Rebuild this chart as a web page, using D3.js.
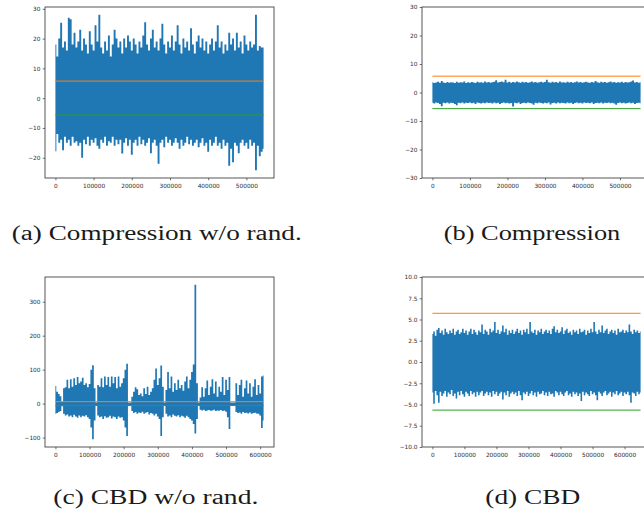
<!DOCTYPE html>
<html><head><meta charset="utf-8">
<script src="https://cdn.jsdelivr.net/npm/d3@7"></script>
<style>body{margin:0;background:#fff}svg{display:block}</style>
</head><body>
<svg id="chart" width="644" height="517"></svg>
<script>
// ---------- data (envelope of each series, read every 5000 samples) ----------
const sampleStep = 5000;
const thresholdUpper = 5.73;
const thresholdLower = -5.66;

// (a) Compression w/o rand.
const hiA = [18,14,20,25.3,17,19,16,27,26.5,18,
  22,17,19,23,16,20,18,15,22.5,18,
  16,24.5,19,28,17,15,19,16,21,14,
  18,23,20,17,19,15,20,17,21,19,
  16,20,18,15,19,17,21,25.5,18,16,
  20,23,17,19,16,20,25,18,15,19,
  17,21,16,19,24.5,18,15,20,17,19,
  16,23.5,18,15,19,21,17,20,16,19,
  15,18,20,16,19,24.5,17,19,15,18,
  16,22,18,20,16,22,17,19,15,21,
  18,16,19,17,18,28,16,17.5,17,17];
const loA = [-17.8,-12,-15,-14,-17.5,-13,-15,-14,-16,-13,
  -15,-14.5,-16,-15,-20,-14,-15.5,-13,-16,-14,
  -15,-13.5,-16,-17,-14,-15,-13,-16,-14.5,-15,
  -13,-16,-14,-15.5,-14,-18.6,-15,-13.5,-16,-14,
  -19,-15,-14,-16,-13,-15.5,-14,-16,-15,-13.5,
  -18.5,-15,-14,-16,-22,-15,-14,-16.5,-13,-15,
  -14,-16,-15,-13.5,-15,-17,-14,-16,-15,-13,
  -15.5,-14,-16,-15,-14,-16.5,-15,-13.5,-16,-15,
  -18,-14,-16,-15,-13,-16,-15,-17,-14,-16,
  -15,-22.7,-17,-21.5,-15,-16,-18.5,-15,-14,-16,
  -15,-17,-14,-16,-15,-24.2,-16,-19.5,-18,-17];

// (b) Compression
const hiB = [3.6,3.3,3.5,3.8,3.4,4.0,3.5,3.3,3.7,3.4,
  3.6,3.5,3.3,3.8,3.4,3.6,3.5,3.9,3.3,3.6,
  3.4,3.7,3.5,3.3,3.8,3.5,3.6,3.4,3.9,3.5,
  3.7,3.4,3.6,3.8,4.3,3.5,3.7,3.9,3.6,4.5,
  3.5,3.8,3.4,3.7,3.5,3.9,3.6,3.4,3.8,3.5,
  3.7,3.4,3.6,3.9,3.5,3.7,3.4,3.6,3.8,3.5,
  3.7,4.5,3.6,3.4,3.8,3.5,3.7,3.4,3.9,3.5,
  3.6,3.4,3.8,3.5,3.7,3.4,3.6,3.9,3.5,3.7,
  3.4,3.6,3.8,3.5,3.4,3.7,3.5,4.0,3.6,3.4,
  3.8,3.5,3.7,3.4,3.6,3.9,3.5,3.7,3.4,3.6,
  3.5,3.8,3.4,3.7,3.5,3.6,3.9,4.2,3.5,3.7,
  3.4,3.6];
const loB = [-3.6,-3.9,-3.5,-3.7,-4.0,-4.8,-3.6,-3.8,-3.5,-3.9,
  -3.6,-3.7,-4.0,-4.5,-3.6,-3.8,-3.5,-3.9,-3.6,-3.7,
  -3.5,-3.8,-3.6,-4.0,-3.5,-3.7,-3.9,-3.6,-3.8,-3.5,
  -3.7,-3.6,-3.9,-3.5,-3.8,-3.6,-4.0,-3.7,-3.5,-3.8,
  -3.6,-3.9,-3.7,-4.9,-3.6,-3.8,-3.5,-4.0,-3.7,-3.6,
  -3.8,-3.5,-3.7,-3.9,-4.3,-3.6,-3.8,-3.5,-3.7,-3.9,
  -3.6,-3.8,-3.5,-4.2,-3.7,-3.6,-3.9,-3.5,-3.8,-3.6,
  -3.7,-3.9,-3.5,-3.8,-3.6,-4.0,-3.7,-3.5,-3.8,-3.6,
  -3.9,-3.5,-3.7,-3.6,-3.8,-3.5,-4.0,-3.7,-3.6,-3.8,
  -3.5,-3.9,-3.6,-3.7,-3.5,-3.8,-3.6,-3.9,-4.3,-3.7,
  -3.5,-3.8,-3.6,-3.9,-3.7,-3.5,-3.8,-3.6,-4.0,-3.7,
  -3.6,-3.8];

// (c) CBD w/o rand.
const hiC = [52,35,28,22,5,45,48,70,45,72,
  50,75,55,78,60,65,76,55,60,48,
  58,100,113,45,3,55,50,75,48,80,
  55,78,50,80,60,78,45,80,50,60,
  75,100,117,3,3,20,35,48,42,25,
  30,22,45,28,50,25,35,45,70,103,
  55,75,112,50,3,40,93,45,80,35,
  60,40,70,45,55,38,65,80,45,70,
  93,115,350,60,3,18,48,20,45,68,
  25,50,72,30,65,20,50,35,78,25,
  70,40,78,3,3,3,60,25,55,70,
  20,45,68,30,60,20,50,72,25,55,
  30,80,83];
const loC = [-30,-28,-25,-22,-8,-30,-35,-32,-38,-35,
  -40,-33,-38,-42,-35,-40,-36,-38,-34,-40,
  -45,-70,-105,-50,-4,-35,-40,-38,-45,-37,
  -42,-40,-36,-44,-38,-40,-45,-38,-42,-40,
  -50,-70,-95,-4,-4,-22,-28,-25,-30,-26,
  -28,-24,-30,-27,-25,-32,-28,-30,-35,-30,
  -38,-45,-95,-40,-4,-30,-38,-35,-40,-32,
  -36,-38,-34,-40,-36,-38,-42,-36,-40,-45,
  -50,-60,-88,-45,-4,-18,-20,-18,-22,-20,
  -19,-21,-20,-18,-22,-20,-21,-19,-22,-20,
  -24,-40,-75,-4,-4,-4,-25,-28,-26,-30,
  -25,-28,-27,-29,-26,-30,-28,-27,-29,-30,
  -35,-72,-50];

// (d) CBD
const hiD = [3.3,3.6,3.1,3.8,4.0,3.4,3.7,3.2,3.9,3.5,
  3.3,3.7,3.4,3.9,3.2,3.6,3.8,3.3,3.5,3.9,
  3.4,3.7,3.2,3.6,3.9,3.3,3.8,3.5,3.2,3.7,
  3.5,4.4,3.3,3.8,3.6,3.2,3.9,3.5,3.7,4.7,
  3.4,3.8,3.3,3.6,4.3,3.5,3.9,3.2,3.7,3.4,
  3.8,3.3,3.6,3.9,3.4,3.7,3.2,3.8,3.5,3.9,
  3.3,4.7,3.6,3.4,3.8,3.2,3.7,3.5,3.9,3.3,
  3.6,3.8,3.4,3.7,3.3,3.9,4.2,3.5,3.8,3.4,
  3.6,4.1,3.3,3.7,3.9,3.4,3.6,3.2,3.8,3.5,
  3.7,3.3,3.9,3.5,3.6,3.8,3.2,3.7,3.4,3.9,
  3.5,4.7,3.6,3.3,3.8,3.5,4.3,3.4,3.7,3.9,
  3.3,3.6,3.8,3.4,3.7,3.2,3.9,3.5,3.6,3.8,
  3.4,3.7,3.5,4.4,3.6,3.3,3.8,3.5,3.7,3.4,
  3.6];
const loD = [-3.6,-4.9,-3.4,-3.9,-4.8,-3.5,-4.0,-3.7,-3.4,-4.1,
  -3.6,-3.8,-3.3,-4.0,-3.7,-4.3,-3.5,-3.9,-3.4,-3.8,
  -4.1,-3.5,-3.7,-4.0,-3.4,-3.8,-3.6,-4.1,-3.5,-3.9,
  -3.6,-3.4,-4.0,-3.7,-3.5,-3.9,-3.6,-4.1,-3.4,-3.8,
  -3.5,-4.0,-3.7,-3.5,-4.4,-3.6,-3.9,-3.4,-4.1,-3.7,
  -3.5,-3.8,-3.6,-4.0,-3.4,-3.9,-4.5,-3.6,-3.8,-3.5,
  -4.0,-3.7,-3.4,-3.9,-3.6,-4.1,-3.5,-3.8,-3.7,-3.4,
  -3.9,-3.6,-4.0,-3.5,-3.8,-3.7,-4.1,-3.4,-3.6,-3.9,
  -3.5,-3.8,-4.0,-3.6,-3.4,-3.9,-3.7,-4.1,-3.5,-3.8,
  -3.6,-4.0,-3.7,-4.6,-3.5,-3.9,-3.6,-3.8,-4.0,-3.4,
  -3.8,-3.6,-3.9,-4.5,-3.5,-3.7,-4.0,-3.6,-3.4,-3.9,
  -3.7,-3.5,-4.1,-3.6,-3.8,-3.4,-3.9,-3.7,-3.5,-4.0,
  -3.6,-3.8,-3.5,-3.9,-4.8,-3.6,-3.7,-4.0,-3.5,-3.8,
  -3.6];

// tick labels
const xTicksAB = [0,100000,200000,300000,400000,500000];
const xTicksCD = [0,100000,200000,300000,400000,500000,600000];
const yTicksA = [-20,-10,0,10,20,30];
const yTicksB = [-30,-20,-10,0,10,20,30];
const yTicksC = [-100,0,100,200,300];
const yTicksD = [-10,-7.5,-5,-2.5,0,2.5,5,7.5,10];
const captions = ["(a) Compression w/o rand.", "(b) Compression", "(c) CBD w/o rand.", "(d) CBD"];

// ---------- drawing ----------
const svg = d3.select("#chart");
svg.append("rect").attr("width",644).attr("height",517).attr("fill","#fff");

const panels = [
  {hi:hiA, lo:loA, box:{x0:45,x1:274,y0:7,y1:178}, yDomain:null, yTicks:yTicksA, xTicks:xTicksAB, fmt:d3.format("d"),
   cap:{text:captions[0], x:11.7, y:240, w:290}},
  {hi:hiB, lo:loB, box:{x0:422,x1:651,y0:7,y1:178}, yDomain:[-30,30], yTicks:yTicksB, xTicks:xTicksAB, fmt:d3.format("d"),
   cap:{text:captions[1], x:443.7, y:240, w:176.6}},
  {hi:hiC, lo:loC, box:{x0:45,x1:274,y0:277,y1:447}, yDomain:null, yTicks:yTicksC, xTicks:xTicksCD, fmt:d3.format("d"),
   cap:{text:captions[2], x:53.3, y:504, w:205}},
  {hi:hiD, lo:loD, box:{x0:422,x1:651,y0:277,y1:447}, yDomain:[-10,10], yTicks:yTicksD, xTicks:xTicksCD, fmt:d3.format(".1f"),
   cap:{text:captions[3], x:485.3, y:504, w:95}}
];

panels.forEach(p => {
  const g = svg.append("g");
  const n = p.hi.length;
  const xs = d3.range(n).map(i => i * sampleStep);
  const xMax = xs[n - 1];
  const x = d3.scaleLinear().domain([-0.05 * xMax, 1.05 * xMax]).range([p.box.x0, p.box.x1]);
  let yd = p.yDomain;
  if (!yd) {
    const mx = d3.max(p.hi), mn = d3.min(p.lo), m = (mx - mn) * 0.05;
    yd = [mn - m, mx + m];
  }
  const y = d3.scaleLinear().domain(yd).range([p.box.y1, p.box.y0]);

  const area = d3.area()
    .x((d, i) => x(xs[i]))
    .y0((d, i) => y(p.lo[i]))
    .y1((d, i) => y(p.hi[i]))
    .curve(d3.curveStep);
  g.append("path").datum(p.hi).attr("d", area).attr("fill", "#1f77b4");

  const line = d3.line().x(d => x(d[0])).y(d => y(d[1]));
  g.append("path").datum([[0, thresholdUpper], [xMax, thresholdUpper]])
    .attr("d", line).attr("stroke", "#ff7f0e").attr("stroke-width", 1).attr("fill", "none");
  g.append("path").datum([[0, thresholdLower], [xMax, thresholdLower]])
    .attr("d", line).attr("stroke", "#2ca02c").attr("stroke-width", 1).attr("fill", "none");

  const ax = d3.axisBottom(x).tickValues(p.xTicks).tickSize(2.3).tickPadding(3.4).tickFormat(d3.format("d"));
  const ay = d3.axisLeft(y).tickValues(p.yTicks).tickSize(2.3).tickPadding(2.2).tickFormat(p.fmt);
  const gx = g.append("g").attr("transform", `translate(0,${p.box.y1})`).call(ax);
  const gy = g.append("g").attr("transform", `translate(${p.box.x0},0)`).call(ay);
  [gx, gy].forEach(a => {
    a.select(".domain").remove();
    a.selectAll("line").attr("stroke", "#333").attr("stroke-width", 0.7);
    a.selectAll("text").attr("fill", "#2a2a2a").style("font-family", "DejaVu Sans")
      .style("font-size", "5.8px");
  });

  g.append("rect").attr("x", p.box.x0).attr("y", p.box.y0)
    .attr("width", p.box.x1 - p.box.x0).attr("height", p.box.y1 - p.box.y0)
    .attr("fill", "none").attr("stroke", "#444").attr("stroke-width", 0.9);

  svg.append("text").text(p.cap.text)
    .attr("x", p.cap.x).attr("y", p.cap.y)
    .attr("textLength", p.cap.w).attr("lengthAdjust", "spacingAndGlyphs")
    .style("font-family", "Liberation Serif").style("font-size", "20px").attr("fill", "#1a1a1a");
});
</script>
</body></html>
